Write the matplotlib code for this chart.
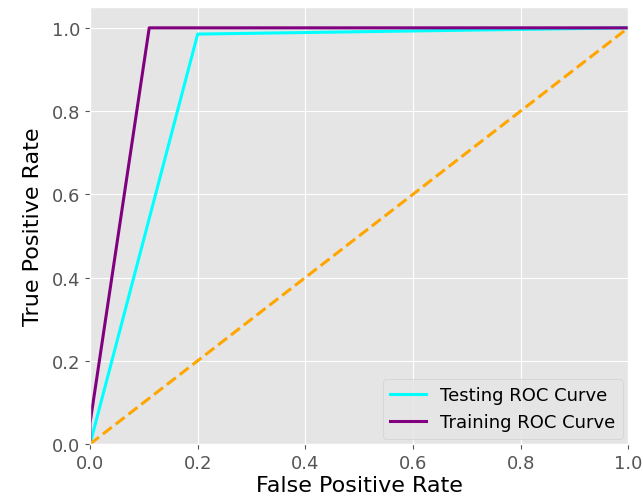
import matplotlib
matplotlib.use("Agg")
from matplotlib import pyplot as plt

# ROC curve points
fpr_test = [0.0, 0.2, 1.0]
tpr_test = [0.0, 0.985, 1.0]
fpr_train = [0.0, 0.0, 0.11, 1.0]
tpr_train = [0.0, 0.05, 1.0, 1.0]
diag = [0.0, 1.0]

plt.style.use("ggplot")
fig, ax = plt.subplots(figsize=(6.43, 5.02), dpi=100)
fig.subplots_adjust(left=0.14, right=0.977, top=0.984, bottom=0.1135)

ax.plot(fpr_test, tpr_test, color="cyan", lw=2.2, label="Testing ROC Curve")
ax.plot(fpr_train, tpr_train, color="purple", lw=2.2, label="Training ROC Curve")
ax.plot(diag, diag, color="orange", lw=2.2, linestyle="--")

ax.set_xlim(0, 1.0)
ax.set_ylim(0, 1.05)
ax.set_xlabel("False Positive Rate", fontsize=16, color="black", labelpad=2)
ax.set_ylabel("True Positive Rate", fontsize=16, color="black", labelpad=6)
ax.tick_params(labelsize=13)
ax.legend(loc="lower right", fontsize=13, borderaxespad=0.3)

plt.savefig("out.png")
